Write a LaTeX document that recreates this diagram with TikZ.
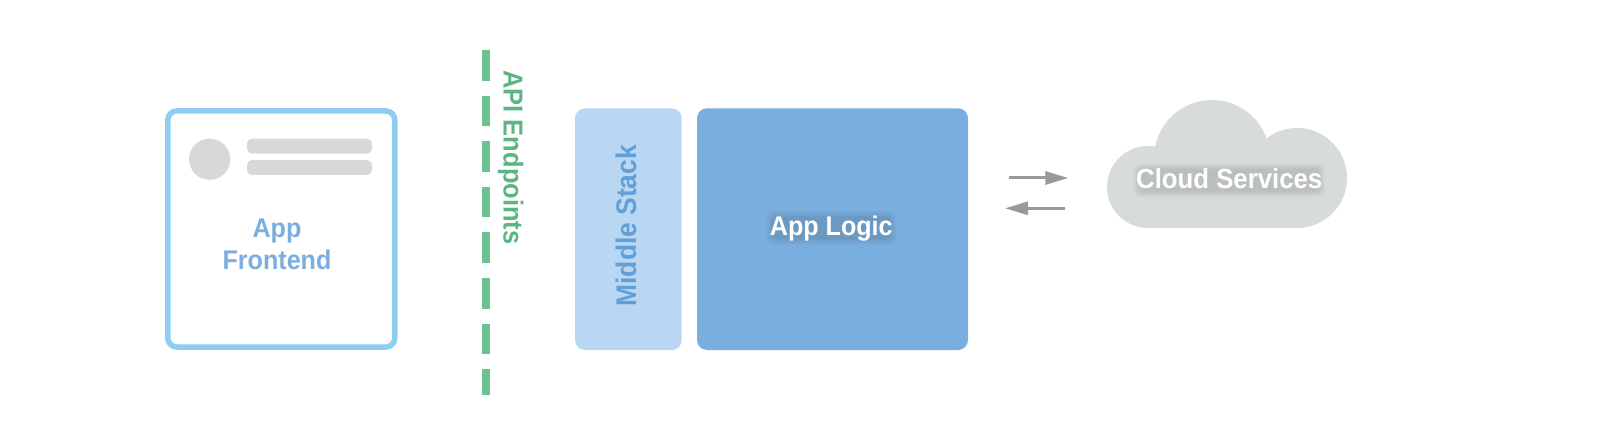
\documentclass[tikz,border=0pt]{standalone}
\usepackage{fontspec}
\setmainfont{Liberation Sans}[BoldFont={Liberation Sans Bold}]
\newfontface\lblfont{Liberation Sans Bold}[FakeStretch=0.93]
\usetikzlibrary{arrows.meta}
\definecolor{frontline}{HTML}{8FCDF2}
\definecolor{fronttext}{HTML}{7BAEDF}
\definecolor{midfill}{HTML}{B9D7F3}
\definecolor{midtext}{HTML}{629FD8}
\definecolor{logicfill}{HTML}{7AAEDE}
\definecolor{apiline}{HTML}{6DC293}
\definecolor{apitext}{HTML}{5BB585}
\definecolor{uigray}{HTML}{D8D8D8}
\definecolor{cloudfill}{HTML}{D8DBDC}
\definecolor{flowgray}{HTML}{999999}
\tikzset{
  lbl/.style={inner sep=0pt,outer sep=0pt,anchor=base,font=\lblfont\fontsize{27}{32}\selectfont},
  blockbox/.style={rounded corners=10pt,inner sep=0pt,outer sep=0pt,draw=none,anchor=north west},
  uibar/.style={fill=uigray,rounded corners=5pt,inner sep=0pt,outer sep=0pt,minimum width=125pt,minimum height=15pt,anchor=north west},
  flow/.style={flowgray,line width=3pt,-{Triangle[length=23pt,width=13pt]},shorten >=0pt},
}
% soft glow under a white label: nested low-opacity rounded bands
\newcommand{\softband}[2]{%
  \foreach \g in {0,1,2,3,4,5,6}
    {\fill[black,opacity=0.014,rounded corners=6pt]
      ([xshift=-#2/2-\g pt,yshift=-3pt-\g pt]#1) rectangle ([xshift=#2/2+\g pt,yshift=19pt+\g pt]#1);}}
\begin{document}
\begin{tikzpicture}[x=1pt,y=-1pt]
\useasboundingbox (0,0) rectangle (1600,446);
\fill[white] (0,0) rectangle (1600,446);
% Frontend
\node[draw=frontline,line width=5.5pt,rounded corners=9pt,inner sep=0pt,outer sep=0pt,minimum width=227pt,minimum height=236pt,anchor=north west] (front) at (167.75,111) {};
\node[fill=uigray,circle,inner sep=0pt,minimum size=41.2pt] (avatar) at (209.7,159.2) {};
\node[uibar] (bara) at (247,138.7) {};
\node[uibar] (barb) at (247,160) {};
\node[lbl,anchor=center,align=center,text=fronttext] (fronttxt) at (277,244) {App\\Frontend};
% API line
\coordinate (apitop) at (486,50);
\coordinate (apibot) at (486,395);
\draw[apiline,line width=8pt,dash pattern=on 30.6pt off 15pt] (apitop) -- (apibot);
\node[lbl,rotate=-90,text=apitext,font=\lblfont\fontsize{27.4}{32}\selectfont] (apitxt) at (503.5,157.4) {API Endpoints};
% Blocks
\node[blockbox,fill=midfill,minimum width=106.7pt,minimum height=241.7pt] (mid) at (575,108.3) {};
\node[lbl,rotate=90,text=midtext,font=\lblfont\fontsize{28.4}{32}\selectfont] (midtxt) at (636,225.7) {Middle Stack};
\node[blockbox,fill=logicfill,minimum width=271pt,minimum height=241.7pt] (logic) at (697,108.3) {};
\softband{831.3,235.7}{118pt}
\node[lbl,text=white] (logictxt) at (831.3,235.7) {App Logic};
% Arrows
\coordinate (ra) at (1009,178);
\coordinate (rb) at (1068.3,178);
\coordinate (la) at (1065,208.3);
\coordinate (lb) at (1005,208.3);
\draw[flow] (ra) -- (rb);
\draw[flow] (la) -- (lb);
% Cloud
\fill[cloudfill] (1148,187) circle[radius=41];
\fill[cloudfill] (1212,158) circle[radius=58];
\fill[cloudfill] (1297,178) circle[radius=50];
\fill[cloudfill] (1148,170) rectangle (1297,228);
\softband{1229.2,188.3}{180pt}
\node[lbl,text=white,font=\lblfont\fontsize{27.7}{32}\selectfont] (cloudtxt) at (1229.2,188.3) {Cloud Services};
\end{tikzpicture}
\end{document}
